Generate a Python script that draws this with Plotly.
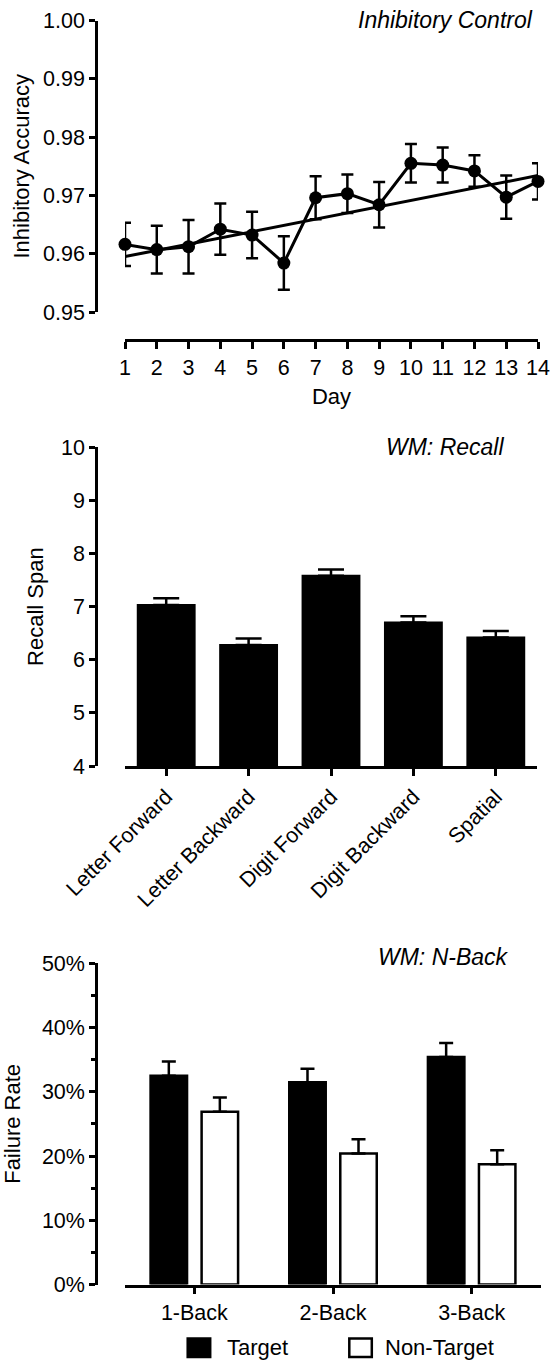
import plotly.graph_objects as go

# ---------------- data ----------------
days = list(range(1, 15))
accuracy = [0.9616, 0.9607, 0.9612, 0.9642, 0.9632, 0.9584, 0.9696,
            0.9703, 0.9684, 0.9755, 0.9752, 0.9742, 0.9697, 0.9724]
accuracy_sem = [0.0037, 0.0041, 0.0046, 0.0044, 0.0040, 0.0046, 0.0037,
                0.0033, 0.0039, 0.0033, 0.0030, 0.0027, 0.0037, 0.0031]
trend_days = [1, 14]
trend_accuracy = [0.9595, 0.9734]

recall_tasks = ["Letter Forward", "Letter Backward", "Digit Forward",
                "Digit Backward", "Spatial"]
recall_span = [7.03, 6.28, 7.58, 6.70, 6.42]
recall_sem = [0.13, 0.12, 0.12, 0.12, 0.12]

nback_levels = ["1-Back", "2-Back", "3-Back"]
series_names = ["Target", "Non-Target"]
target_fail = [0.325, 0.315, 0.354]
target_sem = [0.022, 0.021, 0.022]
nontarget_fail = [0.269, 0.204, 0.187]
nontarget_sem = [0.022, 0.022, 0.022]

panel_titles = ["Inhibitory Control", "WM: Recall", "WM: N-Back"]
y_titles = ["Inhibitory Accuracy", "Recall Span", "Failure Rate"]
top_x_title = "Day"

# ---------------- layout helpers ----------------
W, H = 551, 1361
FONT = "Liberation Sans, Arial, Helvetica, sans-serif"
TICK = 21.5
TITLE = 22


def fx(px):
    return px / W


def fy(py):
    return 1 - py / H


axis_common = dict(showgrid=False, zeroline=False, showline=True,
                   automargin=False,
                   linecolor="black", linewidth=2.5, ticks="outside",
                   tickcolor="black", tickwidth=2.5, ticklen=6,
                   tickfont=dict(family=FONT, size=TICK, color="black"))

fig = go.Figure()

# ---------------- top panel ----------------
fig.add_trace(go.Scatter(
    x=trend_days, y=trend_accuracy, mode="lines",
    line=dict(color="black", width=3), xaxis="x", yaxis="y",
    showlegend=False, cliponaxis=False))
fig.add_trace(go.Scatter(
    x=days, y=accuracy, mode="lines+markers",
    line=dict(color="black", width=3),
    marker=dict(color="black", size=13),
    error_y=dict(type="data", array=accuracy_sem, color="black",
                 thickness=2.5, width=6),
    xaxis="x", yaxis="y", showlegend=False, cliponaxis=False))

# ---------------- middle panel ----------------
fig.add_trace(go.Bar(
    x=list(range(len(recall_tasks))), y=[v - 4 for v in recall_span], base=4,
    width=0.69, marker=dict(color="black", line=dict(color="black", width=2)),
    error_y=dict(type="data", array=recall_sem,
                 arrayminus=[0] * len(recall_sem), symmetric=False,
                 color="black", thickness=2.5, width=13),
    xaxis="x2", yaxis="y2", showlegend=False, cliponaxis=False))

# ---------------- bottom panel ----------------
fig.add_trace(go.Bar(
    name=series_names[0], x=list(range(len(nback_levels))), y=target_fail,
    offset=-0.3155, width=0.263,
    marker=dict(color="black", line=dict(color="black", width=2.5)),
    error_y=dict(type="data", array=target_sem,
                 arrayminus=[0] * len(target_sem), symmetric=False,
                 color="black", thickness=2.5, width=7),
    xaxis="x3", yaxis="y3", showlegend=False, cliponaxis=False))
fig.add_trace(go.Bar(
    name=series_names[1], x=list(range(len(nback_levels))), y=nontarget_fail,
    offset=0.0525, width=0.263,
    marker=dict(color="white", line=dict(color="black", width=2.5)),
    error_y=dict(type="data", array=nontarget_sem,
                 arrayminus=[0] * len(nontarget_sem), symmetric=False,
                 color="black", thickness=2.5, width=7),
    xaxis="x3", yaxis="y3", showlegend=False, cliponaxis=False))

fig.update_layout(
    template="none",
    width=W, height=H, autosize=False,
    margin=dict(l=0, r=0, t=0, b=0, pad=0),
    paper_bgcolor="white", plot_bgcolor="white",
    font=dict(family=FONT, color="black"),
    barmode="overlay",
    xaxis=dict(axis_common, domain=[fx(125), fx(538)], range=[1, 14],
               tickvals=days, ticktext=[str(d) for d in days],
               anchor="free", position=fy(340), ticklen=7,
               title=dict(text=top_x_title, standoff=10,
                          font=dict(family=FONT, size=TITLE, color="black"))),
    yaxis=dict(axis_common, domain=[fy(312), fy(20.5)], range=[0.95, 1.00],
               tickvals=[0.95, 0.96, 0.97, 0.98, 0.99, 1.00],
               tickformat=".2f", anchor="free", position=fx(96),
               title=dict(text=y_titles[0], standoff=6,
                          font=dict(family=FONT, size=TITLE, color="black"))),
    xaxis2=dict(axis_common, domain=[fx(125), fx(537)], range=[-0.5, 4.5],
                tickvals=list(range(len(recall_tasks))), ticktext=recall_tasks,
                tickangle=-45, anchor="y2", ticklen=7),
    yaxis2=dict(axis_common, domain=[fy(766), fy(447.3)], range=[4, 10],
                dtick=1, anchor="free", position=fx(96),
                title=dict(text=y_titles[1], standoff=10,
                           font=dict(family=FONT, size=TITLE, color="black"))),
    xaxis3=dict(axis_common, domain=[fx(125), fx(541)], range=[-0.5, 2.5],
                tickvals=list(range(len(nback_levels))), ticktext=nback_levels,
                anchor="y3", ticklen=7),
    yaxis3=dict(axis_common, domain=[fy(1284.5), fy(963.3)], range=[0, 0.5],
                dtick=0.1, tickformat=".0%", anchor="free", position=fx(96),
                minor=dict(dtick=0.05, ticks="outside", ticklen=4,
                           tickwidth=2.5, tickcolor="black"),
                title=dict(text=y_titles[2], standoff=15,
                           font=dict(family=FONT, size=TITLE, color="black"))),
)

title_pos = [(535, 20), (506, 447), (511, 957)]
for txt, (px, py) in zip(panel_titles, title_pos):
    fig.add_annotation(text=f"<i>{txt}</i>", x=fx(px), y=fy(py),
                       xref="paper", yref="paper", xanchor="right",
                       yanchor="middle", showarrow=False,
                       font=dict(family=FONT, size=23, color="black"))

# legend (manual, larger swatches like the original)
legend_items = [(series_names[0], "black", 186.7, 225),
                (series_names[1], "white", 348.3, 383)]
for name, fill, x0, tx in legend_items:
    fig.add_shape(type="rect", xref="paper", yref="paper",
                  x0=fx(x0 + 1), x1=fx(x0 + 23.5), y0=fy(1357), y1=fy(1338.5),
                  fillcolor=fill, line=dict(color="black", width=2.5))
    fig.add_annotation(text=name, x=fx(tx), y=fy(1347), xref="paper",
                       yref="paper", xanchor="left", yanchor="middle",
                       showarrow=False,
                       font=dict(family=FONT, size=TITLE, color="black"))

fig.write_html("out.html", config={"displayModeBar": False},
               post_script="document.body.style.margin='0';")
